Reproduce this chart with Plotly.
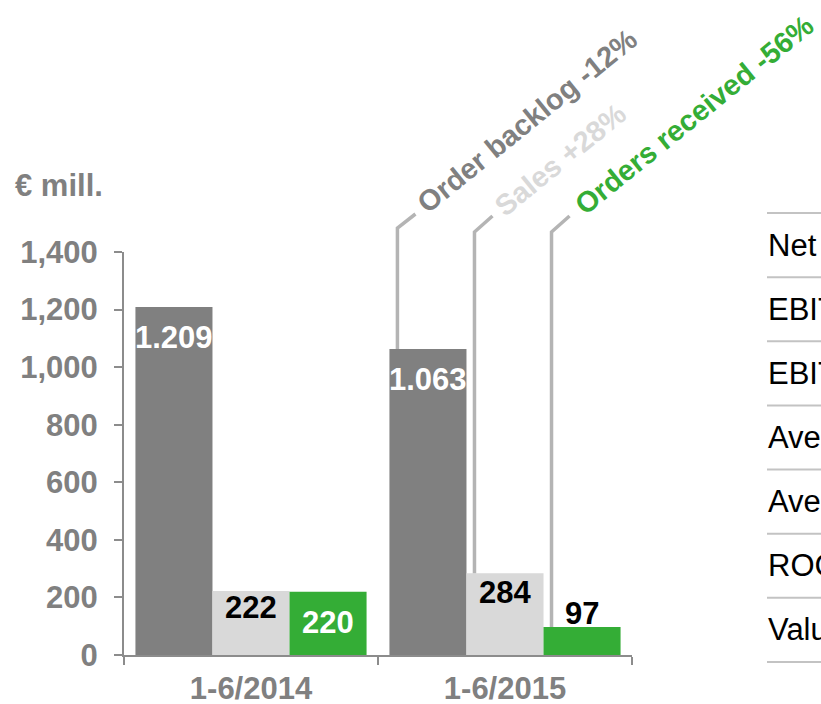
import plotly.graph_objects as go

# ---- data -------------------------------------------------------------
categories = ["1-6/2014", "1-6/2015"]
order_backlog = [1209, 1063]
sales = [222, 284]
orders_received = [220, 97]

series_names = ["Order backlog", "Sales", "Orders received"]
series_values = [order_backlog, sales, orders_received]
series_colors = ["#808080", "#d9d9d9", "#34ad36"]
label_colors = [["white", "white"], ["black", "black"], ["white", "black"]]
# vertical offset of each value label's centre from its bar top (px, + = up)
label_offsets = [[-31, -30], [-16, -19], [-31, 14]]

table_rows = ["Net sales", "EBIT", "EBIT margin", "Average capital employed",
              "Average workforce", "ROCE", "Value added"]

y_ticks = [0, 200, 400, 600, 800, 1000, 1200, 1400]

# ---- geometry ---------------------------------------------------------
W, H = 821, 704
L, R, T, B = 124, 632, 252, 655
Y_MAX = 1400
BARGAP = 0.09
BAR_W = (1 - BARGAP) / 3

FONT = "Liberation Sans, Arial, sans-serif"
GREY = "#808080"
FS = 31


def px_x(xd):
    return L + (xd + 0.5) / 2 * (R - L)


def px_y(yd):
    return B - yd / Y_MAX * (B - T)


def paper_x(px):
    return (px - L) / (R - L)


def paper_y(py):
    return (B - py) / (B - T)


fig = go.Figure()
for name, vals, col in zip(series_names, series_values, series_colors):
    fig.add_trace(go.Bar(x=categories, y=vals, name=name, marker_color=col,
                         marker_line_width=0, showlegend=False, hoverinfo="skip"))

annotations = []
shapes = []

# value labels on the bars
for si, vals in enumerate(series_values):
    for gi, v in enumerate(vals):
        xc = gi + (si - 1) * BAR_W
        annotations.append(dict(
            x=xc, y=v, xref="x", yref="y", text=f"{v:,}".replace(",", "."),
            showarrow=False, xanchor="center", yanchor="middle",
            yshift=label_offsets[si][gi],
            font=dict(family=FONT, size=FS, color=label_colors[si][gi], weight="bold")))

# callouts for the year-on-year change of each series
bend_y = [228, 232, 232]
end_y = [214, 216, 216]
text_centre = [(527, 121), (560, 160), (694, 115)]
text_colors = [GREY, "#d9d9d9", "#34ad36"]
for si, vals in enumerate(series_values):
    change = (vals[1] / vals[0] - 1) * 100
    bar_left = 1 + (si - 1) * BAR_W - BAR_W / 2
    xv = px_x(bar_left) + 8
    y0 = px_y(vals[1])
    path = (f"M {paper_x(xv)},{paper_y(y0)} L {paper_x(xv)},{paper_y(bend_y[si])} "
            f"L {paper_x(xv + 18)},{paper_y(end_y[si])}")
    shapes.append(dict(type="path", path=path, xref="paper", yref="paper",
                       line=dict(color="#b4b4b4", width=3.5)))
    cx, cy = text_centre[si]
    annotations.append(dict(
        x=paper_x(cx), y=paper_y(cy), xref="paper", yref="paper",
        text=f"{series_names[si]} {change:+.0f}%", showarrow=False, textangle=-39,
        xanchor="center", yanchor="middle",
        font=dict(family=FONT, size=29, color=text_colors[si], weight="bold")))

# unit label
annotations.append(dict(x=paper_x(13), y=paper_y(185), xref="paper", yref="paper",
                        text="€ mill.", showarrow=False, xanchor="left", yanchor="middle",
                        font=dict(family=FONT, size=FS, color=GREY, weight="bold")))

# key-figures table at the right
row_lines = [213 + i * (662 - 213) / len(table_rows) for i in range(len(table_rows) + 1)]
for yl in row_lines:
    shapes.append(dict(type="line", xref="paper", yref="paper",
                       x0=paper_x(767), x1=paper_x(900), y0=paper_y(yl), y1=paper_y(yl),
                       line=dict(color="#c3c3c3", width=2)))
for i, row in enumerate(table_rows):
    yc = (row_lines[i] + row_lines[i + 1]) / 2
    annotations.append(dict(x=paper_x(766), y=paper_y(yc), xref="paper", yref="paper",
                            text=row, showarrow=False, xanchor="left", yanchor="middle",
                            font=dict(family=FONT, size=FS, color="black")))

fig.update_layout(
    width=W, height=H,
    margin=dict(l=L, r=W - R, t=T, b=H - B, pad=0),
    paper_bgcolor="white", plot_bgcolor="white",
    barmode="group", bargap=BARGAP, bargroupgap=0,
    annotations=annotations, shapes=shapes,
    xaxis=dict(type="category", range=[-0.5, 1.5], showline=True, linecolor="#8c8c8c",
               linewidth=2, ticks="outside", tickson="boundaries", ticklen=8,
               tickwidth=2, tickcolor="#8c8c8c", showgrid=False, automargin=False,
               ticklabelstandoff=5,
               tickfont=dict(family=FONT, size=FS, color=GREY, weight="bold")),
    yaxis=dict(range=[0, Y_MAX], tickvals=y_ticks, tickformat=",d", showline=True,
               linecolor="#8c8c8c", linewidth=2, ticks="outside", ticklen=8,
               tickwidth=2, tickcolor="#8c8c8c", showgrid=False, zeroline=False,
               automargin=False, ticklabelstandoff=10,
               tickfont=dict(family=FONT, size=FS, color=GREY, weight="bold")),
)

fig.write_html("out.html")
